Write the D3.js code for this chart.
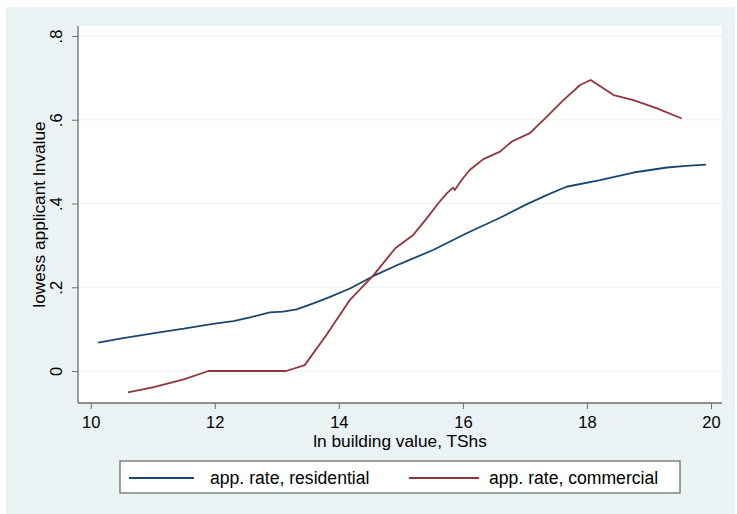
<!DOCTYPE html>
<html>
<head>
<meta charset="utf-8">
<script src="https://cdn.jsdelivr.net/npm/d3@7"></script>
<style>
  html, body { margin: 0; padding: 0; background: #ffffff; }
  svg { display: block; }
  text { font-family: "Liberation Sans", Arial, sans-serif; fill: #000; }
</style>
</head>
<body>
<svg id="chart" width="737" height="514"></svg>
<script>
// ---- data ----
const resX = [10.12, 10.5, 11.0, 11.5, 11.77, 12.0, 12.3, 12.57, 12.89, 13.1, 13.32, 13.6, 13.86, 14.18, 14.56, 14.99, 15.52, 16.06, 16.6, 17.0, 17.35, 17.67, 18.21, 18.75, 19.29, 19.6, 19.92];
const resY = [0.068, 0.078, 0.090, 0.101, 0.108, 0.113, 0.119, 0.128, 0.140, 0.142, 0.147, 0.162, 0.177, 0.197, 0.227, 0.256, 0.289, 0.329, 0.366, 0.396, 0.420, 0.440, 0.456, 0.474, 0.486, 0.490, 0.493];
const comX = [10.6, 11.0, 11.5, 11.9, 12.5, 13.15, 13.45, 13.80, 14.18, 14.56, 14.91, 15.20, 15.42, 15.60, 15.74, 15.84, 15.87, 15.98, 16.11, 16.33, 16.6, 16.79, 17.08, 17.35, 17.62, 17.89, 18.06, 18.43, 18.75, 19.13, 19.53];
const comY = [-0.051, -0.039, -0.020, 0.0, 0.0, 0.0, 0.014, 0.086, 0.170, 0.229, 0.293, 0.325, 0.365, 0.400, 0.424, 0.438, 0.432, 0.456, 0.480, 0.506, 0.524, 0.548, 0.568, 0.607, 0.647, 0.683, 0.695, 0.659, 0.647, 0.627, 0.603];
const xTicks = [10, 12, 14, 16, 18, 20];
const yTicks = [0, 0.2, 0.4, 0.6, 0.8];
const yTickLabels = ["0", ".2", ".4", ".6", ".8"];
const seriesNames = ["app. rate, residential", "app. rate, commercial"];
const xTitle = "ln building value, TShs";
const yTitle = "lowess applicant lnvalue";

// ---- layout ----
const svg = d3.select("#chart");
const bg = "#EAF2F3";
const colors = ["#1a476f", "#90353b"];
const plot = { left: 78, right: 722, top: 26, bottom: 403 };

svg.append("rect").attr("x", 6).attr("y", 7).attr("width", 729).attr("height", 507).attr("fill", bg);
svg.append("rect").attr("x", plot.left).attr("y", plot.top)
  .attr("width", plot.right - plot.left).attr("height", plot.bottom - plot.top).attr("fill", "#ffffff");

const x = d3.scaleLinear().domain([10, 20]).range([90.7, 711]);
const y = d3.scaleLinear().domain([0, 0.8]).range([371, 36]);

// gridlines
svg.append("g").selectAll("line").data(yTicks).join("line")
  .attr("x1", plot.left + 1).attr("x2", plot.right)
  .attr("y1", d => y(d)).attr("y2", d => y(d))
  .attr("stroke", bg).attr("stroke-width", 1.2);

// y axis
const yAxis = d3.axisLeft(y).tickValues(yTicks).tickSize(6).tickPadding(10)
  .tickFormat((d, i) => yTickLabels[i]);
const gy = svg.append("g").attr("transform", `translate(${plot.left},0)`).call(yAxis);
gy.select(".domain").attr("d", `M0,${plot.top}V${plot.bottom}`).attr("stroke", "#6e6e6e").attr("stroke-width", 1.3);
gy.selectAll(".tick line").attr("stroke", "#6e6e6e");
gy.selectAll(".tick text")
  .attr("font-size", 16.5).attr("fill", "#000")
  .attr("text-anchor", "middle").attr("x", 0).attr("y", 0).attr("dy", "0")
  .attr("transform", "translate(-16,0) rotate(-90)");

// x axis
const xAxis = d3.axisBottom(x).tickValues(xTicks).tickSize(6).tickPadding(7).tickFormat(d3.format("d"));
const gx = svg.append("g").attr("transform", `translate(0,${plot.bottom})`).call(xAxis);
gx.select(".domain").attr("d", `M${plot.left},0H${plot.right}`).attr("stroke", "#6e6e6e").attr("stroke-width", 1.3);
gx.selectAll(".tick line").attr("stroke", "#6e6e6e");
gx.selectAll(".tick text").attr("font-size", 16.5).attr("fill", "#000");

// titles
svg.append("text").attr("x", (plot.left + plot.right) / 2).attr("y", 447)
  .attr("text-anchor", "middle").attr("font-size", 17.3).text(xTitle);
svg.append("text").attr("transform", `translate(45,${(plot.top + plot.bottom) / 2}) rotate(-90)`)
  .attr("text-anchor", "middle").attr("font-size", 17.3).text(yTitle);

// lines
const line = d3.line().x(d => x(d[0])).y(d => y(d[1]));
const resData = resX.map((v, i) => [v, resY[i]]);
const comData = comX.map((v, i) => [v, comY[i]]);
[resData, comData].forEach((data, i) => {
  svg.append("path").datum(data).attr("d", line)
    .attr("fill", "none").attr("stroke", colors[i]).attr("stroke-width", 1.8)
    .attr("stroke-linejoin", "round");
});

// legend
const lg = svg.append("g");
lg.append("rect").attr("x", 120).attr("y", 461).attr("width", 560).attr("height", 32)
  .attr("fill", "#ffffff").attr("stroke", "#6e6e6e").attr("stroke-width", 1.3);
const legendItems = [{ x1: 129, x2: 194, tx: 210 }, { x1: 409, x2: 479, tx: 489 }];
legendItems.forEach((it, i) => {
  lg.append("line").attr("x1", it.x1).attr("x2", it.x2).attr("y1", 478).attr("y2", 478)
    .attr("stroke", colors[i]).attr("stroke-width", 1.8);
  lg.append("text").attr("x", it.tx).attr("y", 484).attr("font-size", 17.6).text(seriesNames[i]);
});
</script>
</body>
</html>
